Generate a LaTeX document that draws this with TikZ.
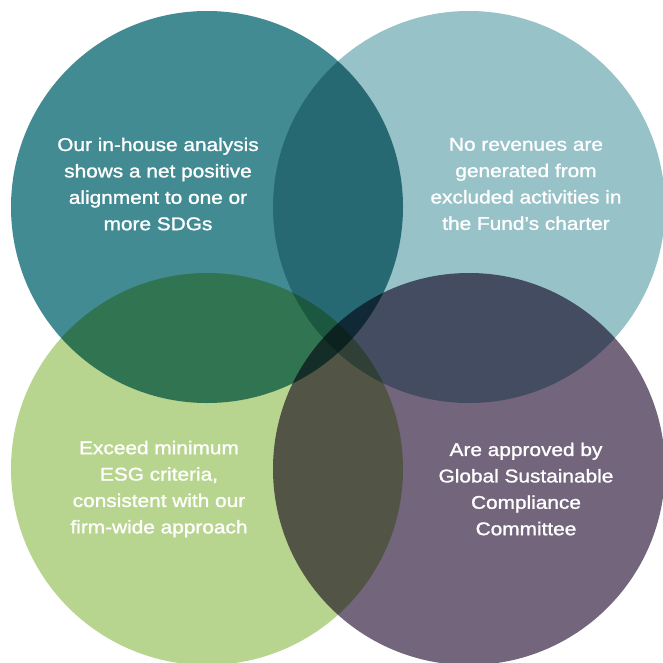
\documentclass[tikz,border=0pt]{standalone}
\usepackage{fontspec}
\setmainfont[FakeBold=1.3, FakeStretch=1.13]{Liberation Sans}
\definecolor{cTL}{HTML}{438B93}
\definecolor{cTR}{HTML}{97C2C8}
\definecolor{cBL}{HTML}{B8D58F}
\definecolor{cBR}{HTML}{72657C}
\tikzset{
  disc/.style={blend mode=multiply},
  label/.style={text=white, align=center, font=\fontsize{18.5}{26.5}\selectfont, inner sep=0pt}
}
\begin{document}
\begin{tikzpicture}[x=1bp,y=-1bp]
\clip (0,0) rectangle (663,663);
\fill[white] (0,0) rectangle (663,663);
\fill[cTL, disc] (207,207) circle[radius=196bp];
\fill[cTR, disc] (469,207) circle[radius=196bp];
\fill[cBL, disc] (207,469) circle[radius=196bp];
\fill[cBR, disc] (469,469) circle[radius=196bp];
\node[label] (t1) at (158,184) {Our in-house analysis\\shows a net positive\\alignment to one or\\more SDGs};
\node[label] (t2) at (526,184) {No revenues are\\generated from\\excluded activities in\\the Fund’s charter};
\node[label] (t3) at (159,489) {Exceed minimum\\ESG criteria,\\consistent with our\\firm-wide approach};
\node[label] (t4) at (526,489) {Are approved by\\Global Sustainable\\Compliance\\Committee};
\end{tikzpicture}
\end{document}
